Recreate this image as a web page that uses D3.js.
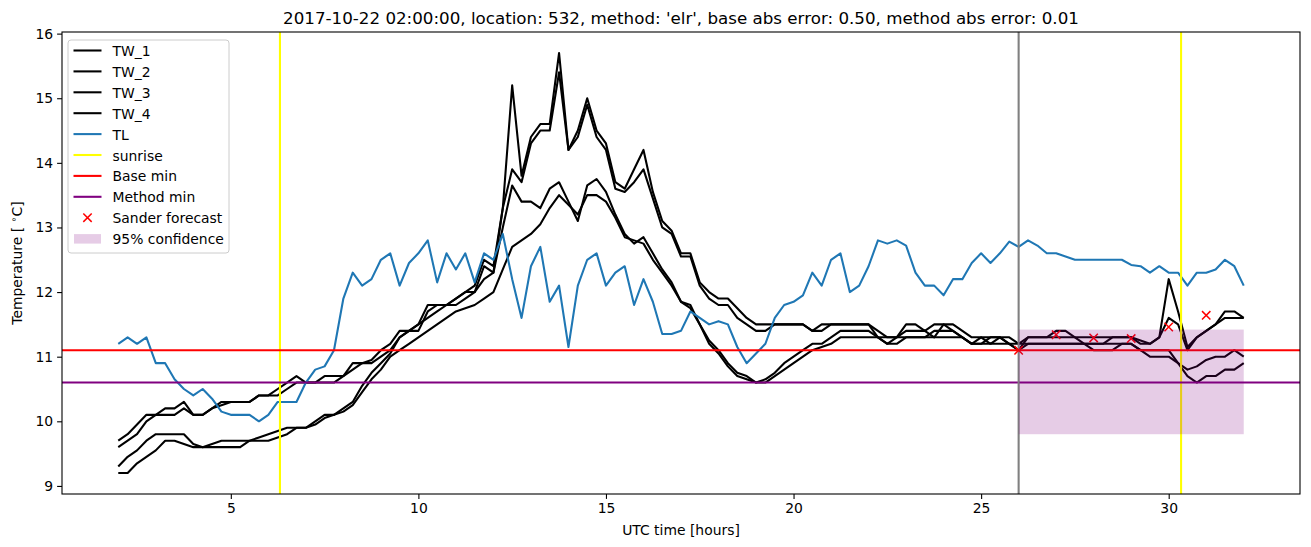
<!DOCTYPE html>
<html>
<head>
<meta charset="utf-8">
<script src="https://cdn.jsdelivr.net/npm/d3@7"></script>
<style>
  body { margin: 0; background: #fff; }
  svg { display: block; font-family: "DejaVu Sans", sans-serif; }
</style>
</head>
<body>
<div id="chart"></div>
<script>
// hours from 02:00 to next day 08:00, 15 min steps
const hours = d3.range(0, 121).map(i => 2 + i * 0.25);

const tw1 = [9.7,9.8,9.95,10.1,10.1,10.2,10.2,10.3,10.1,10.1,10.2,10.25,10.3,10.3,10.3,10.4,10.4,10.5,10.6,10.7,
  10.6,10.6,10.7,10.7,10.7,10.9,10.9,10.95,11.1,11.2,11.4,11.4,11.5,11.8,11.8,11.8,11.9,12.0,12.1,12.5,
  12.4,13.3,15.2,13.8,14.4,14.6,14.6,15.7,14.2,14.5,15.0,14.5,14.3,13.7,13.6,13.9,14.2,13.55,13.1,12.95,
  12.6,12.6,12.15,12.0,11.9,11.9,11.75,11.6,11.5,11.5,11.5,11.5,11.5,11.5,11.4,11.5,11.5,11.5,11.5,11.5,
  11.5,11.4,11.3,11.3,11.5,11.5,11.4,11.5,11.5,11.4,11.3,11.2,11.3,11.3,11.3,11.2,11.1,11.3,11.3,11.3,
  11.4,11.4,11.3,11.3,11.3,11.3,11.3,11.3,11.3,11.25,11.2,11.3,12.2,11.7,11.15,11.3,11.4,11.5,11.7,11.7,11.6];

const tw2 = [9.6,9.7,9.8,10.0,10.1,10.1,10.1,10.2,10.1,10.1,10.2,10.3,10.3,10.3,10.3,10.4,10.4,10.4,10.5,10.6,
  10.6,10.6,10.6,10.6,10.7,10.8,10.9,10.9,11.0,11.1,11.3,11.4,11.4,11.7,11.8,11.8,11.9,12.0,12.0,12.4,
  12.3,13.3,13.9,13.7,14.3,14.5,14.5,15.4,14.2,14.4,14.9,14.4,14.2,13.6,13.55,13.7,13.9,13.45,13.0,12.9,
  12.55,12.55,12.1,11.9,11.8,11.8,11.6,11.5,11.4,11.4,11.5,11.5,11.5,11.5,11.4,11.4,11.5,11.5,11.5,11.5,
  11.5,11.3,11.2,11.3,11.4,11.4,11.4,11.3,11.5,11.5,11.4,11.3,11.3,11.2,11.3,11.3,11.2,11.3,11.3,11.3,
  11.3,11.3,11.3,11.2,11.2,11.2,11.3,11.3,11.3,11.2,11.2,11.3,11.6,11.5,11.1,11.3,11.4,11.5,11.6,11.6,11.6];

const tw3 = [9.3,9.45,9.55,9.7,9.8,9.8,9.8,9.8,9.65,9.6,9.65,9.7,9.7,9.7,9.7,9.75,9.8,9.85,9.9,9.9,
  9.9,10.0,10.1,10.1,10.2,10.3,10.55,10.75,10.9,11.05,11.3,11.4,11.5,11.6,11.7,11.8,11.8,11.9,12.0,12.2,
  12.3,13.0,13.65,13.4,13.4,13.3,13.6,13.7,13.4,13.1,13.65,13.75,13.55,13.2,12.9,12.75,12.85,12.6,12.35,12.15,
  11.85,11.8,11.5,11.25,11.1,10.9,10.75,10.7,10.6,10.65,10.75,10.9,11.0,11.1,11.2,11.2,11.3,11.4,11.4,11.4,
  11.4,11.3,11.3,11.3,11.3,11.3,11.3,11.4,11.4,11.4,11.3,11.2,11.2,11.3,11.3,11.2,11.2,11.2,11.2,11.2,
  11.2,11.2,11.2,11.2,11.2,11.2,11.2,11.2,11.2,11.1,11.0,11.0,11.0,10.9,10.8,10.85,10.95,11.0,11.0,11.1,11.0];

const tw4 = [9.2,9.2,9.35,9.45,9.55,9.7,9.7,9.65,9.6,9.6,9.6,9.6,9.6,9.6,9.7,9.7,9.7,9.75,9.8,9.9,
  9.9,9.95,10.05,10.1,10.15,10.25,10.45,10.65,10.8,11.0,11.1,11.2,11.3,11.4,11.5,11.6,11.7,11.75,11.8,11.9,
  12.0,12.35,12.7,12.8,12.9,13.05,13.3,13.5,13.35,13.2,13.5,13.5,13.4,13.15,12.85,12.8,12.75,12.5,12.3,12.1,
  11.85,11.75,11.5,11.2,11.05,10.85,10.7,10.65,10.6,10.6,10.7,10.8,10.9,11.0,11.1,11.15,11.2,11.3,11.3,11.3,
  11.3,11.3,11.2,11.2,11.3,11.3,11.3,11.3,11.3,11.3,11.3,11.2,11.2,11.2,11.2,11.2,11.1,11.2,11.2,11.2,
  11.2,11.2,11.2,11.2,11.1,11.1,11.1,11.2,11.2,11.1,11.1,11.1,11.1,10.9,10.7,10.6,10.7,10.7,10.8,10.8,10.9];

const tl = [11.2,11.3,11.2,11.3,10.9,10.9,10.65,10.5,10.4,10.5,10.35,10.15,10.1,10.1,10.1,10.0,10.1,10.3,10.3,10.3,
  10.6,10.8,10.85,11.1,11.9,12.3,12.1,12.2,12.5,12.6,12.1,12.45,12.6,12.8,12.15,12.6,12.35,12.6,12.15,12.6,
  12.5,12.9,12.2,11.6,12.4,12.7,11.85,12.1,11.15,12.1,12.5,12.6,12.1,12.3,12.4,11.8,12.2,11.85,11.35,11.35,
  11.4,11.7,11.6,11.5,11.55,11.5,11.15,10.9,11.05,11.2,11.6,11.8,11.85,11.95,12.3,12.1,12.5,12.6,12.0,12.1,
  12.4,12.8,12.75,12.8,12.72,12.3,12.1,12.1,11.95,12.2,12.2,12.45,12.6,12.45,12.6,12.78,12.7,12.8,12.72,12.6,
  12.6,12.55,12.5,12.5,12.5,12.5,12.5,12.5,12.42,12.4,12.3,12.4,12.3,12.3,12.1,12.3,12.3,12.35,12.5,12.4,12.1];

const sunrise = [6.31, 30.33];
const baseMin = 11.1;
const methodMin = 10.6;
const forecastTime = 26;
const sanderHours = [26, 27, 28, 29, 30, 31];
const sanderTemps = [11.1, 11.34, 11.29, 11.28, 11.46, 11.64];
const confidence = [9.8, 11.42]; // lower, upper
const confHours = [26, 32];

const xTicks = [5, 10, 15, 20, 25, 30];
const yTicks = [9, 10, 11, 12, 13, 14, 15, 16];
const title = "2017-10-22 02:00:00, location: 532, method: 'elr', base abs error: 0.50, method abs error: 0.01";

const W = 1311, H = 547;
const margin = { left: 62, right: 11, top: 32, bottom: 53 };
const fs = 13.9;   // 10pt
const lw = 2.08;   // 1.5pt

const svg = d3.select('#chart')
  .append('svg')
  .attr('width', W)
  .attr('height', H);

const x = d3.scaleLinear().domain([0.5, 33.5]).range([margin.left, W - margin.right]);
const y = d3.scaleLinear().domain([8.875, 16.025]).range([H - margin.bottom, margin.top]);

const g = svg.append('g');

const line = d3.line()
  .x((d, i) => x(hours[i]))
  .y(d => y(d));

const tws = [tw1, tw2, tw3, tw4];
tws.forEach(s => {
  g.append('path')
    .attr('d', line(s))
    .attr('fill', 'none')
    .attr('stroke', 'black')
    .attr('stroke-width', lw)
    .attr('stroke-linejoin', 'round');
});

g.append('path')
  .attr('d', line(tl))
  .attr('fill', 'none')
  .attr('stroke', '#1f77b4')
  .attr('stroke-width', lw)
  .attr('stroke-linejoin', 'round');

// sunrise lines
g.selectAll('.sunrise')
  .data(sunrise)
  .enter()
  .append('line')
  .attr('x1', d => x(d)).attr('x2', d => x(d))
  .attr('y1', y.range()[0]).attr('y2', y.range()[1])
  .attr('stroke', 'yellow')
  .attr('stroke-width', lw);

// horizontal min lines
[[baseMin, 'red'], [methodMin, 'purple']].forEach(([v, c]) => {
  g.append('line')
    .attr('x1', x.range()[0]).attr('x2', x.range()[1])
    .attr('y1', y(v)).attr('y2', y(v))
    .attr('stroke', c)
    .attr('stroke-width', lw);
});

// forecast time
g.append('line')
  .attr('x1', x(forecastTime)).attr('x2', x(forecastTime))
  .attr('y1', y.range()[0]).attr('y2', y.range()[1])
  .attr('stroke', 'grey')
  .attr('stroke-width', lw);

// sander forecast markers
const mk = 4.2;
sanderHours.forEach((h, i) => {
  const cx = x(h), cy = y(sanderTemps[i]);
  g.append('path')
    .attr('d', `M${cx - mk},${cy - mk}L${cx + mk},${cy + mk}M${cx - mk},${cy + mk}L${cx + mk},${cy - mk}`)
    .attr('stroke', 'red')
    .attr('stroke-width', 1.5);
});

// 95% confidence band
g.append('rect')
  .attr('x', x(confHours[0]))
  .attr('y', y(confidence[1]))
  .attr('width', x(confHours[1]) - x(confHours[0]))
  .attr('height', y(confidence[0]) - y(confidence[1]))
  .attr('fill', 'purple')
  .attr('fill-opacity', 0.2);

// axes
const xAxis = svg.append('g')
  .attr('transform', `translate(0,${H - margin.bottom})`)
  .call(d3.axisBottom(x).tickValues(xTicks).tickSize(4.9).tickPadding(4).tickFormat(d3.format('d')));
const yAxis = svg.append('g')
  .attr('transform', `translate(${margin.left},0)`)
  .call(d3.axisLeft(y).tickValues(yTicks).tickSize(4.9).tickPadding(4).tickFormat(d3.format('d')));
[xAxis, yAxis].forEach(a => {
  a.selectAll('text').attr('font-size', fs).attr('fill', 'black').attr('font-family', '"DejaVu Sans", sans-serif');
  a.selectAll('line').attr('stroke', 'black').attr('stroke-width', 1.1);
  a.select('.domain').remove();
});

// frame
svg.append('rect')
  .attr('x', x.range()[0]).attr('y', y.range()[1])
  .attr('width', x.range()[1] - x.range()[0])
  .attr('height', y.range()[0] - y.range()[1])
  .attr('fill', 'none')
  .attr('stroke', 'black')
  .attr('stroke-width', 1.1);

// labels
svg.append('text')
  .attr('x', (x.range()[0] + x.range()[1]) / 2)
  .attr('y', 24)
  .attr('text-anchor', 'middle')
  .attr('font-size', 16.7)
  .text(title);

svg.append('text')
  .attr('x', (x.range()[0] + x.range()[1]) / 2)
  .attr('y', 535)
  .attr('text-anchor', 'middle')
  .attr('font-size', fs)
  .text('UTC time [hours]');

const yl = svg.append('text')
  .attr('transform', `translate(22,${(y.range()[0] + y.range()[1]) / 2}) rotate(-90)`)
  .attr('text-anchor', 'middle')
  .attr('font-size', fs);
yl.append('tspan').text('Temperature [ ');
yl.append('tspan').attr('dy', -5).attr('font-size', 9.7).text('\u2218');
yl.append('tspan').attr('dy', 5).text('C]');

// legend
const legendItems = [
  { label: 'TW_1', type: 'line', color: 'black' },
  { label: 'TW_2', type: 'line', color: 'black' },
  { label: 'TW_3', type: 'line', color: 'black' },
  { label: 'TW_4', type: 'line', color: 'black' },
  { label: 'TL', type: 'line', color: '#1f77b4' },
  { label: 'sunrise', type: 'line', color: 'yellow' },
  { label: 'Base min', type: 'line', color: 'red' },
  { label: 'Method min', type: 'line', color: 'purple' },
  { label: 'Sander forecast', type: 'marker', color: 'red' },
  { label: '95% confidence', type: 'patch', color: 'purple' }
];

const lg = svg.append('g').attr('transform', 'translate(68,40)');
lg.append('rect')
  .attr('width', 161).attr('height', 213)
  .attr('rx', 3)
  .attr('fill', 'white').attr('fill-opacity', 0.8)
  .attr('stroke', '#cccccc');

legendItems.forEach((d, i) => {
  const ry = 10.5 + i * 20.9;
  const row = lg.append('g').attr('transform', `translate(0,${ry})`);
  if (d.type === 'line') {
    row.append('line').attr('x1', 5.5).attr('x2', 33.5).attr('y1', 0).attr('y2', 0)
      .attr('stroke', d.color).attr('stroke-width', lw);
  } else if (d.type === 'marker') {
    row.append('path').attr('d', `M${19.5 - mk},${-mk}L${19.5 + mk},${mk}M${19.5 - mk},${mk}L${19.5 + mk},${-mk}`)
      .attr('stroke', d.color).attr('stroke-width', 1.5);
  } else {
    row.append('rect').attr('x', 6).attr('y', -4.5).attr('width', 27).attr('height', 9.5)
      .attr('fill', d.color).attr('fill-opacity', 0.2);
  }
  row.append('text').attr('x', 44.5).attr('y', 0.5)
    .attr('dominant-baseline', 'central')
    .attr('font-size', fs)
    .text(d.label);
});
</script>
</body>
</html>
